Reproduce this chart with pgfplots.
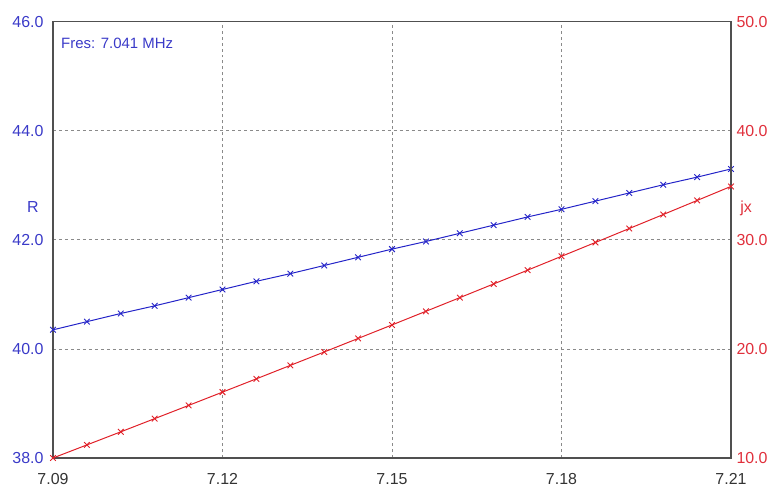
\documentclass[border=0pt]{standalone}
\usepackage{pgfplots}
\pgfplotsset{compat=1.18}
\usepackage{fontspec}
\setmainfont{Liberation Sans}

\definecolor{rblue}{HTML}{2424C8}
\definecolor{rtext}{HTML}{3A3AC8}
\definecolor{xred}{HTML}{E02028}
\definecolor{xtext}{HTML}{E0303C}
\definecolor{gridgray}{HTML}{8A8A8A}
\definecolor{boxgray}{HTML}{505050}

\pgfplotstableread{
f      R      jx
7.090  40.35  10.00
7.096  40.50  11.20
7.102  40.65  12.40
7.108  40.79  13.61
7.114  40.94  14.82
7.120  41.09  16.04
7.126  41.24  17.26
7.132  41.38  18.49
7.138  41.53  19.72
7.144  41.68  20.96
7.150  41.83  22.20
7.156  41.97  23.45
7.162  42.12  24.70
7.168  42.27  25.96
7.174  42.42  27.22
7.180  42.56  28.49
7.186  42.71  29.76
7.192  42.86  31.04
7.198  43.01  32.32
7.204  43.15  33.61
7.210  43.30  34.90
}\sweep

\begin{document}
\fontsize{16}{19}\selectfont
\begin{tikzpicture}
\path[use as bounding box] (-53bp,-31bp) rectangle (719bp,458bp);
\pgfplotsset{
  every axis/.append style={
    scale only axis, width=678bp, height=436.3bp,
    at={(0,0)}, anchor=south west,
    xmin=7.09, xmax=7.21,
    major tick length=0pt,
    /pgf/number format/assume math mode=true,
    tick label style={font=\fontsize{16}{19}\selectfont},
    axis line style={boxgray, line width=1.2pt},
  },
}
\begin{axis}[
  ymin=38, ymax=46,
  ytick={38,40,42,44,46},
  xtick={7.09,7.12,7.15,7.18,7.21},
  xticklabel style={text=black!80, yshift=-10bp, /pgf/number format/.cd, fixed, fixed zerofill, precision=2},
  yticklabel style={text=rtext, xshift=-4bp, /pgf/number format/.cd, fixed, fixed zerofill, precision=1},
  xmajorgrids, ymajorgrids,
  grid style={gridgray, dashed, line width=0.8pt},
  clip=false,
]
  \addplot[rblue, line width=1pt, mark=x, mark size=4bp,
    mark options={line width=0.9pt}] table[x=f, y=R] {\sweep};
  \node[anchor=west, text=rtext, font=\fontsize{15}{18}\selectfont]
    at (rel axis cs:0.004,0.9505) {Fres: 7.041 MHz};
  \node[text=rtext] at (rel axis cs:0,0.575) [xshift=-20bp] {R};
  \node[text=xtext] at (rel axis cs:1,0.573) [xshift=15bp] {jx};
\end{axis}
\begin{axis}[
  ymin=10, ymax=50,
  ytick={10,20,30,40,50},
  axis y line*=right, axis x line=none,
  yticklabel style={text=xtext, /pgf/number format/.cd, fixed, fixed zerofill, precision=1},
]
  \addplot[xred, line width=1pt, mark=x, mark size=4bp,
    mark options={line width=0.9pt}] table[x=f, y=jx] {\sweep};
\end{axis}
\end{tikzpicture}
\end{document}
